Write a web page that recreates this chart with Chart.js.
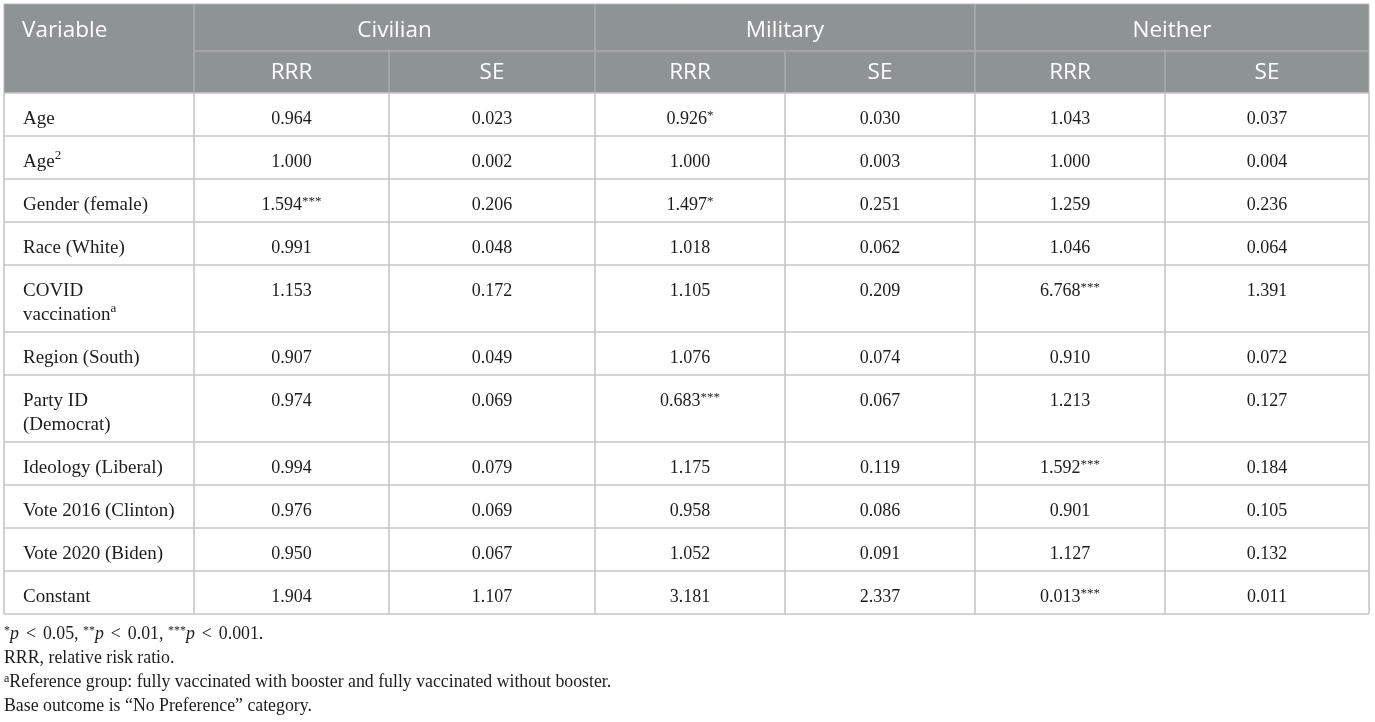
<!DOCTYPE html>
<html>
<head>
<meta charset="utf-8">
<script src="https://cdn.jsdelivr.net/npm/chart.js@4.4.1/dist/chart.umd.min.js"></script>
<style>
html,body{margin:0;padding:0;background:#fff;width:1375px;height:722px;overflow:hidden;}
#wrap{position:absolute;left:0;top:0;width:1375px;height:722px;}
#notes{position:absolute;left:4px;top:621px;font-family:"Liberation Serif","Times New Roman",serif;font-size:17.8px;color:#1c1c1c;line-height:24px;white-space:nowrap;}
#notes sup{font-size:12px;vertical-align:5px;line-height:0;}
#notes i{font-style:italic;}
#notes .lt{margin:0 7px;}
</style>
</head>
<body>
<div id="wrap"><canvas id="c" width="1375" height="722"></canvas></div>
<div id="notes">
<div><sup>*</sup><i>p</i><span class="lt">&lt;</span>0.05, <sup>**</sup><i>p</i><span class="lt">&lt;</span>0.01, <sup>***</sup><i>p</i><span class="lt">&lt;</span>0.001.</div>
<div>RRR, relative risk ratio.</div>
<div><sup>a</sup>Reference group: fully vaccinated with booster and fully vaccinated without booster.</div>
<div>Base outcome is “No Preference” category.</div>
</div>
<script>
// ---------- DATA ----------
const headerFirst = "Variable";
const outcomes = ["Civilian", "Military", "Neither"];
const statLabels = ["RRR", "SE"];
const variables = [
  "Age", "Age^2", "Gender (female)", "Race (White)", "COVID\nvaccination^a",
  "Region (South)", "Party ID\n(Democrat)", "Ideology (Liberal)",
  "Vote 2016 (Clinton)", "Vote 2020 (Biden)", "Constant"
];
const civilianRRR      = [0.964, 1.000, 1.594, 0.991, 1.153, 0.907, 0.974, 0.994, 0.976, 0.950, 1.904];
const civilianRRRStars = ["", "", "***", "", "", "", "", "", "", "", ""];
const civilianSE       = [0.023, 0.002, 0.206, 0.048, 0.172, 0.049, 0.069, 0.079, 0.069, 0.067, 1.107];
const militaryRRR      = [0.926, 1.000, 1.497, 1.018, 1.105, 1.076, 0.683, 1.175, 0.958, 1.052, 3.181];
const militaryRRRStars = ["*", "", "*", "", "", "", "***", "", "", "", ""];
const militarySE       = [0.030, 0.003, 0.251, 0.062, 0.209, 0.074, 0.067, 0.119, 0.086, 0.091, 2.337];
const neitherRRR       = [1.043, 1.000, 1.259, 1.046, 6.768, 0.910, 1.213, 1.592, 0.901, 1.127, 0.013];
const neitherRRRStars  = ["", "", "", "", "***", "", "", "***", "", "", "***"];
const neitherSE        = [0.037, 0.004, 0.236, 0.064, 1.391, 0.072, 0.127, 0.184, 0.105, 0.132, 0.011];

// ---------- LAYOUT (sizes / styles) ----------
const colWidths = [190, 195, 206, 190, 190, 190, 204];
const headerHeights = [47, 42];
const rowBase = 43, rowExtraLine = 24;
const firstLineOffset = 26;
const headerBg = "#8e9394", headerLine = "#a9adae", gridLine = "#c6c6c6";
const labelFont = '19px "Liberation Serif", "Times New Roman", serif';
const numFont = '18px "Liberation Serif", "Times New Roman", serif';
const supFont = '13px "Liberation Serif", "Times New Roman", serif';
const headFont = '22.5px "Open Sans", "Noto Sans", sans-serif';

// derived edges
const colEdges = [0];
colWidths.forEach(w => colEdges.push(colEdges[colEdges.length - 1] + w));
const rowEdges = [0];
headerHeights.forEach(h => rowEdges.push(rowEdges[rowEdges.length - 1] + h));
variables.forEach(v => {
  const lines = v.split("\n").length;
  rowEdges.push(rowEdges[rowEdges.length - 1] + rowBase + rowExtraLine * (lines - 1));
});
const totalW = colEdges[colEdges.length - 1];
const totalH = rowEdges[rowEdges.length - 1];

const valueColumns = [
  {vals: civilianRRR, stars: civilianRRRStars},
  {vals: civilianSE},
  {vals: militaryRRR, stars: militaryRRRStars},
  {vals: militarySE},
  {vals: neitherRRR, stars: neitherRRRStars},
  {vals: neitherSE}
];

// one scatter dataset per value column: anchor points for each cell
const datasets = valueColumns.map((col, ci) => ({
  label: "col" + ci,
  data: col.vals.map((v, ri) => ({
    x: (colEdges[ci + 1] + colEdges[ci + 2]) / 2,
    y: rowEdges[ri + 2] + firstLineOffset,
    text: v.toFixed(3),
    sup: col.stars ? col.stars[ri] : ""
  })),
  pointRadius: 0,
  showLine: false
}));

function drawRich(ctx, main, sup, x, y, align, font, sFont, supRaise) {
  ctx.font = font;
  const wMain = ctx.measureText(main).width;
  ctx.font = sFont;
  const wSup = sup ? ctx.measureText(sup).width : 0;
  let sx = x;
  if (align === "center") sx = x - (wMain + wSup) / 2;
  ctx.textAlign = "left";
  ctx.textBaseline = "middle";
  ctx.font = font;
  ctx.fillText(main, sx, y);
  if (sup) {
    ctx.font = sFont;
    ctx.fillText(sup, sx + wMain, y - supRaise);
  }
}

const tablePlugin = {
  id: "tablePlugin",
  beforeDatasetsDraw(chart) {
    const {ctx, scales: {x, y}} = chart;
    const X = v => x.getPixelForValue(v);
    const Y = v => y.getPixelForValue(v);
    ctx.save();
    ctx.fillStyle = headerBg;
    ctx.fillRect(X(0), Y(0), X(totalW) - X(0), Y(rowEdges[2]) - Y(0));
    ctx.strokeStyle = headerLine;
    ctx.lineWidth = 1.5;
    ctx.beginPath();
    ctx.moveTo(X(colEdges[1]), Y(rowEdges[1]));
    ctx.lineTo(X(totalW), Y(rowEdges[1]));
    [1, 3, 5].forEach(i => { ctx.moveTo(X(colEdges[i]), Y(0)); ctx.lineTo(X(colEdges[i]), Y(rowEdges[2])); });
    [2, 4, 6].forEach(i => { ctx.moveTo(X(colEdges[i]), Y(rowEdges[1])); ctx.lineTo(X(colEdges[i]), Y(rowEdges[2])); });
    ctx.stroke();
    ctx.strokeStyle = gridLine;
    ctx.lineWidth = 1.6;
    ctx.beginPath();
    for (let r = 2; r < rowEdges.length; r++) {
      ctx.moveTo(X(0), Y(rowEdges[r])); ctx.lineTo(X(totalW), Y(rowEdges[r]));
    }
    colEdges.forEach(c => { ctx.moveTo(X(c), Y(rowEdges[2])); ctx.lineTo(X(c), Y(totalH)); });
    ctx.stroke();
    ctx.beginPath();
    ctx.moveTo(X(0), Y(0)); ctx.lineTo(X(totalW), Y(0));
    ctx.moveTo(X(0), Y(0)); ctx.lineTo(X(0), Y(rowEdges[2]));
    ctx.moveTo(X(totalW), Y(0)); ctx.lineTo(X(totalW), Y(rowEdges[2]));
    ctx.strokeStyle = "#b5b8b9";
    ctx.lineWidth = 1;
    ctx.stroke();
    ctx.restore();
  },
  afterDatasetsDraw(chart) {
    const {ctx, scales: {x, y}} = chart;
    const X = v => x.getPixelForValue(v);
    const Y = v => y.getPixelForValue(v);
    ctx.save();
    ctx.fillStyle = "#ffffff";
    ctx.font = headFont;
    ctx.textBaseline = "middle";
    ctx.textAlign = "left";
    const h1 = Y((rowEdges[0] + rowEdges[1]) / 2 + 3);
    const h2 = Y((rowEdges[1] + rowEdges[2]) / 2 + 1);
    ctx.fillText(headerFirst, X(colEdges[0]) + 18, h1);
    ctx.textAlign = "center";
    outcomes.forEach((o, i) => {
      const c0 = colEdges[1 + 2 * i], c1 = colEdges[3 + 2 * i];
      ctx.fillText(o, X((c0 + c1) / 2), h1);
      statLabels.forEach((s, j) => {
        const a = colEdges[1 + 2 * i + j], b = colEdges[2 + 2 * i + j];
        ctx.fillText(s, X((a + b) / 2), h2);
      });
    });
    ctx.fillStyle = "#1c1c1c";
    variables.forEach((v, ri) => {
      const lines = v.split("\n");
      lines.forEach((ln, li) => {
        const parts = ln.split("^");
        drawRich(ctx, parts[0], parts[1] || "", X(colEdges[0]) + 19,
          Y(rowEdges[ri + 2] + firstLineOffset + li * rowExtraLine), "left", labelFont, supFont, 6);
      });
    });
    chart.data.datasets.forEach(ds => {
      ds.data.forEach(p => {
        drawRich(ctx, p.text, p.sup, X(p.x), Y(p.y), "center", numFont, supFont, 3);
      });
    });
    ctx.restore();
  }
};

new Chart(document.getElementById("c").getContext("2d"), {
  type: "scatter",
  data: {datasets},
  options: {
    responsive: false,
    animation: false,
    events: [],
    layout: {padding: {left: 4, right: 1375 - 4 - totalW, top: 4, bottom: 722 - 4 - totalH}},
    scales: {
      x: {type: "linear", min: 0, max: totalW, display: false},
      y: {type: "linear", min: 0, max: totalH, reverse: true, display: false}
    },
    plugins: {legend: {display: false}, tooltip: {enabled: false}}
  },
  plugins: [tablePlugin]
});
</script>
</body>
</html>
